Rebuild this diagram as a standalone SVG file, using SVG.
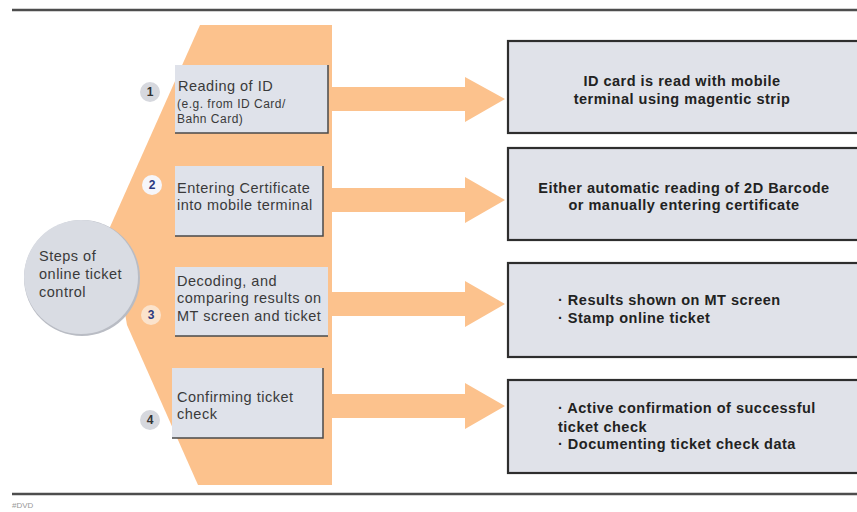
<svg xmlns="http://www.w3.org/2000/svg" width="857" height="512" viewBox="0 0 857 512">
<defs>
<style>
.step{fill:#dfe2ea}
.shadow{stroke:#4a4a4a;stroke-width:1.5;fill:none}
.st{font-family:"Liberation Sans",Arial,sans-serif;font-size:14.5px;letter-spacing:0.5px;fill:#3a3a3a}
.sm{font-family:"Liberation Sans",Arial,sans-serif;font-size:12px;letter-spacing:0.5px;fill:#3a3a3a}
.res{fill:#e0e2e9;stroke:#2e2e2e;stroke-width:2.2}
.rt{font-family:"Liberation Sans",Arial,sans-serif;font-size:14.5px;letter-spacing:0.5px;font-weight:bold;fill:#222}
.num{font-family:"Liberation Sans",Arial,sans-serif;font-size:12px;font-weight:bold;text-anchor:middle}
.arrow{fill:#fcc28d}
.rule{stroke:#4d4d4d;stroke-width:2.5}
</style>
</defs>
<rect width="857" height="512" fill="#ffffff"/>
<line class="rule" x1="12" y1="10" x2="857" y2="10"/>
<line class="rule" x1="12" y1="494" x2="857" y2="494"/>
<text x="12" y="508" font-family="Liberation Sans,Arial,sans-serif" font-size="8" fill="#999">#DVD</text>

<polygon id="band" points="200,25 332,25 332,485 198,485 127,325 110,227" fill="#fcc28d"/>

<g id="connectors">
<polygon class="arrow" points="332,87 465,87 465,77 505,99 465,122 465,111 332,111"/>
<polygon class="arrow" points="332,188 465,188 465,177 505,200 465,223 465,212 332,212"/>
<polygon class="arrow" points="332,292 465,292 465,281 505,304 465,327 465,316 332,316"/>
<polygon class="arrow" points="332,394 465,394 465,383 505,406 465,429 465,418 332,418"/>
</g>

<g id="hub">
<circle cx="82" cy="278" r="58" fill="#b9bcc4"/>
<circle cx="81" cy="277" r="57" fill="#d9dce3"/>
<text class="st" x="39" y="261">Steps of</text>
<text class="st" x="39" y="279">online ticket</text>
<text class="st" x="39" y="297">control</text>
</g>

<g id="step1">
<rect class="step" x="175" y="65" width="153" height="68"/>
<polyline class="shadow" points="175,133 328,133 328,65"/>
<circle cx="150" cy="92" r="10" fill="#d6d8de"/>
<text class="num" x="150" y="96" fill="#333">1</text>
<text class="st" x="178" y="91">Reading of ID</text>
<text class="sm" x="177" y="108">(e.g. from ID Card/</text>
<text class="sm" x="177" y="123">Bahn Card)</text>
</g>

<g id="step2">
<rect class="step" x="175" y="166" width="148" height="70"/>
<polyline class="shadow" points="175,236 323,236 323,166"/>
<circle cx="152" cy="185" r="10" fill="#f6f6fa"/>
<text class="num" x="152" y="189" fill="#2b3a80">2</text>
<text class="st" x="177" y="193">Entering Certificate</text>
<text class="st" x="177" y="210">into mobile terminal</text>
</g>

<g id="step3">
<rect class="step" x="175" y="267" width="153" height="69"/>
<polyline class="shadow" points="175,336 328,336"/>
<circle cx="151" cy="315" r="10" fill="#fbe3cc"/>
<text class="num" x="151" y="319" fill="#2b3a80">3</text>
<text class="st" x="177" y="286">Decoding, and</text>
<text class="st" x="177" y="303">comparing results on</text>
<text class="st" x="177" y="321">MT screen and ticket</text>
</g>

<g id="step4">
<rect class="step" x="172" y="368" width="151" height="70"/>
<polyline class="shadow" points="172,438 323,438 323,368"/>
<circle cx="150" cy="420" r="10" fill="#d6d8de"/>
<text class="num" x="150" y="424" fill="#333">4</text>
<text class="st" x="177" y="402">Confirming ticket</text>
<text class="st" x="177" y="419">check</text>
</g>

<g id="result1">
<rect class="res" x="508" y="41" width="360" height="92"/>
<text class="rt" x="682" y="86" text-anchor="middle">ID card is read with mobile</text>
<text class="rt" x="682" y="104" text-anchor="middle">terminal using magentic strip</text>
</g>

<g id="result2">
<rect class="res" x="508" y="148" width="360" height="92"/>
<text class="rt" x="684" y="193" text-anchor="middle">Either automatic reading of 2D Barcode</text>
<text class="rt" x="684" y="210" text-anchor="middle">or manually entering certificate</text>
</g>

<g id="result3">
<rect class="res" x="508" y="263" width="360" height="94"/>
<text class="rt" x="558" y="305">· Results shown on MT screen</text>
<text class="rt" x="558" y="323">· Stamp online ticket</text>
</g>

<g id="result4">
<rect class="res" x="508" y="380" width="360" height="93"/>
<text class="rt" x="558" y="413">· Active confirmation of successful</text>
<text class="rt" x="558" y="432">ticket check</text>
<text class="rt" x="558" y="449">· Documenting ticket check data</text>
</g>
</svg>
